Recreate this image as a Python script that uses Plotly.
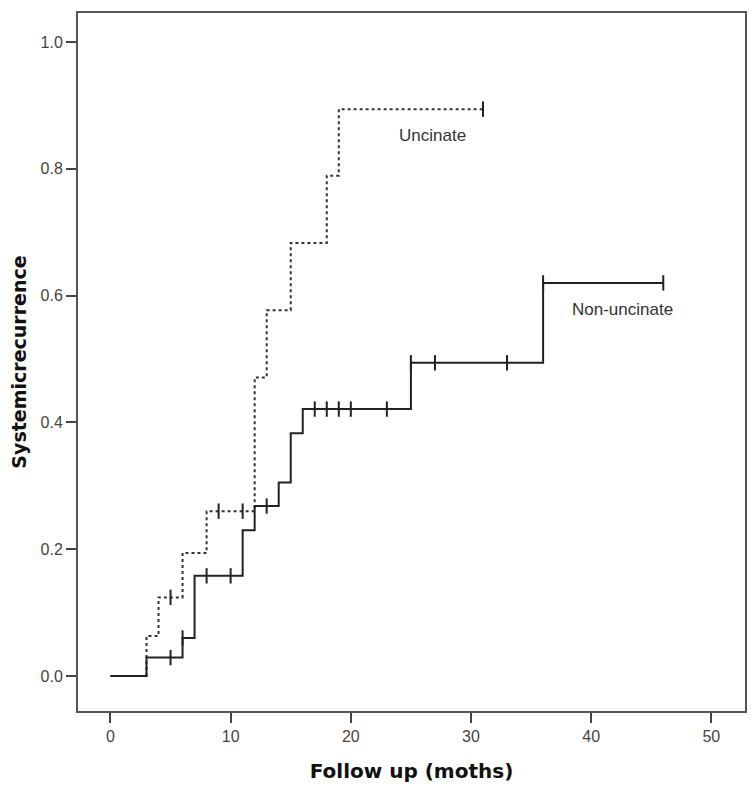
import plotly.graph_objects as go

# Non-uncinate (solid) step curve
non_t = [0, 3, 6, 7, 11, 12, 14, 15, 16, 25, 36, 46]
non_v = [0.0, 0.029, 0.060, 0.158, 0.230, 0.268, 0.305, 0.383, 0.421, 0.494, 0.620, 0.620]
non_cens_t = [5, 6, 8, 10, 13, 17, 18, 19, 20, 23, 25, 27, 33, 36, 46]
non_cens_v = [0.029, 0.060, 0.158, 0.158, 0.268, 0.421, 0.421, 0.421, 0.421, 0.421,
              0.494, 0.494, 0.494, 0.620, 0.620]

# Uncinate (dotted) step curve
unc_t = [0, 3, 4, 6, 8, 12, 13, 15, 18, 19, 31]
unc_v = [0.0, 0.063, 0.124, 0.194, 0.260, 0.471, 0.577, 0.683, 0.789, 0.894, 0.894]
unc_cens_t = [5, 9, 11, 31]
unc_cens_v = [0.124, 0.260, 0.260, 0.894]

x_ticks = [0, 10, 20, 30, 40, 50]
y_ticks = [0.0, 0.2, 0.4, 0.6, 0.8, 1.0]
y_tick_labels = ["0.0", "0.2", "0.4", "0.6", "0.8", "1.0"]

line_col = "#222222"
label_font = "Liberation Sans, Arial, sans-serif"

fig = go.Figure()
fig.add_trace(go.Scatter(x=unc_t, y=unc_v, mode="lines", line_shape="hv",
                         line=dict(color="#333333", width=2, dash="3px,3px"),
                         showlegend=False, hoverinfo="skip"))
fig.add_trace(go.Scatter(x=non_t, y=non_v, mode="lines", line_shape="hv",
                         line=dict(color=line_col, width=2),
                         showlegend=False, hoverinfo="skip"))
fig.add_trace(go.Scatter(x=unc_cens_t, y=unc_cens_v, mode="markers",
                         marker=dict(symbol="line-ns", size=11,
                                     line=dict(color=line_col, width=2)),
                         showlegend=False))
fig.add_trace(go.Scatter(x=non_cens_t, y=non_cens_v, mode="markers",
                         marker=dict(symbol="line-ns", size=11,
                                     line=dict(color=line_col, width=2)),
                         showlegend=False))

fig.add_annotation(x=26.8, y=0.853, text="Uncinate", showarrow=False,
                   font=dict(family=label_font, size=17, color="#333333"))
fig.add_annotation(x=42.6, y=0.578, text="Non-uncinate", showarrow=False,
                   font=dict(family=label_font, size=17, color="#333333"))

axis_common = dict(showline=True, mirror=True, linecolor="#555555", linewidth=2,
                   ticks="outside", ticklen=10, tickwidth=2, tickcolor="#444444",
                   showgrid=False, zeroline=False, automargin=False,
                   tickfont=dict(family=label_font, size=16, color="#444444"))

fig.update_xaxes(range=[-2.7, 52.8], tickvals=x_ticks, **axis_common,
                 title=dict(text="Follow up (moths)", standoff=20,
                            font=dict(family="DejaVu Sans", size=20, color="#111111",
                                      weight="bold")))
fig.update_yaxes(range=[-0.0552, 1.0457], tickvals=y_ticks, ticktext=y_tick_labels,
                 **axis_common,
                 title=dict(text="Systemicrecurrence", standoff=10,
                            font=dict(family="DejaVu Sans", size=19, color="#111111",
                                      weight="bold")))

fig.update_layout(width=756, height=791, margin=dict(l=70, r=19, t=5, b=88),
                  plot_bgcolor="white", paper_bgcolor="white")

fig.write_html("out.html")
